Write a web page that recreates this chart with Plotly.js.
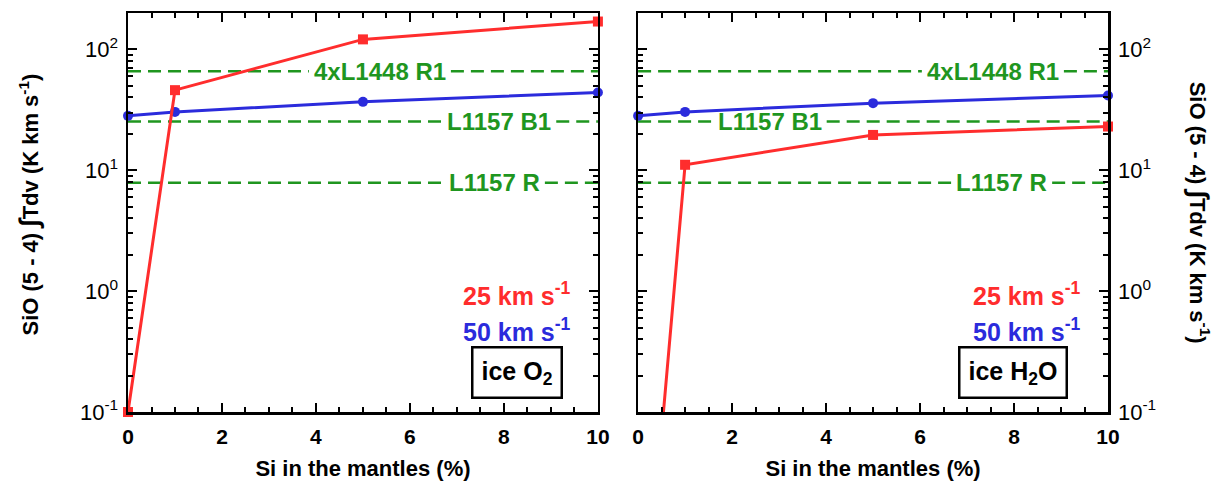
<!DOCTYPE html>
<html><head><meta charset="utf-8">
<script src="https://cdn.plot.ly/plotly-3.0.1.min.js"></script>
<style>body{margin:0;background:#fff}#c{width:1227px;height:482px}</style>
</head><body><div id="c"></div>
<script>
// Data
const siPct = [0, 1, 5, 10];
const o2_v25 = [0.1, 46, 121, 170];
const o2_v50 = [28.2, 30.4, 36.8, 44];
const h2o_v25 = [0.0004, 11.1, 19.6, 23.0];
const h2o_v50 = [28.2, 30.4, 35.9, 41.5];
const refNames = ['4xL1448 R1', 'L1157 B1', 'L1157 R'];
const refValues = [66, 25.3, 7.9];
const refLabelXLeft = [5.36, 7.9, 7.8];
const refLabelXRight = [7.55, 2.8, 7.74];
const yTickVals = [0.1, 1, 10, 100];
const yTickText = ['10<sup>-1</sup>', '10<sup>0</sup>', '10<sup>1</sup>', '10<sup>2</sup>'];
const xTickVals = [0, 2, 4, 6, 8, 10];
const xRange = [0, 10];

const RED = '#ff2d2d', BLUE = '#2b2bdc', GREEN = '#1f961f';
const FONT = 'Liberation Sans, Arial, sans-serif';
const LABEL_SIZE = 24;

const W = 1227, H = 482;
const margin = {l: 128, r: 118.7, t: 12.7, b: 70.3, autoexpand: false};
const domL = [0, 0.4795], domR = [0.5205, 1];
const plotW = W - margin.l - margin.r;
const pxPerUnit = plotW * (domL[1] - domL[0]) / (xRange[1] - xRange[0]);

// measure label widths to leave a gap in the dashed lines
const ctx = document.createElement('canvas').getContext('2d');
ctx.font = 'bold ' + LABEL_SIZE + 'px "Liberation Sans", Arial, sans-serif';
function halfGap(text) { return (ctx.measureText(text).width / 2 + 5) / pxPerUnit; }

const traces = [];
function addPanel(xa, ya, v25, v50, labelX) {
  refValues.forEach((v, i) => {
    const hw = halfGap(refNames[i]);
    traces.push({x: [xRange[0], labelX[i] - hw, null, labelX[i] + hw, xRange[1]], y: [v, v, null, v, v],
      xaxis: xa, yaxis: ya, mode: 'lines', connectgaps: false,
      line: {color: GREEN, width: 2.5, dash: '13px,7px'}, hoverinfo: 'skip'});
  });
  traces.push({x: siPct, y: v50, xaxis: xa, yaxis: ya, mode: 'lines+markers',
    line: {color: BLUE, width: 3}, marker: {symbol: 'circle', size: 10, color: BLUE}, cliponaxis: false});
  traces.push({x: siPct, y: v25, xaxis: xa, yaxis: ya, mode: 'lines+markers',
    line: {color: RED, width: 3}, marker: {symbol: 'square', size: 10, color: RED}, cliponaxis: false});
}
addPanel('x', 'y', o2_v25, o2_v50, refLabelXLeft);
addPanel('x2', 'y2', h2o_v25, h2o_v50, refLabelXRight);

const axBase = {showline: true, linecolor: 'black', linewidth: 2.5, mirror: 'ticks',
  ticks: 'inside', tickcolor: 'black', tickwidth: 2, showgrid: false, zeroline: false};
function xAx(domain, anchor) {
  return Object.assign({}, axBase, {domain: domain, anchor: anchor, range: xRange,
    tickvals: xTickVals, ticklen: 9, ticklabelstandoff: 4,
    tickfont: {family: FONT, size: 21, color: 'black', weight: 'bold'},
    minor: {dtick: 0.5, ticks: 'inside', ticklen: 5, tickcolor: 'black', tickwidth: 2},
    title: {text: 'Si in the mantles (%)', standoff: 14,
      font: {family: FONT, size: 22, color: 'black', weight: 'bold'}}});
}
function yAx(anchor, side) {
  return Object.assign({}, axBase, {type: 'log', anchor: anchor, side: side,
    range: [-1, Math.log10(200)], tickvals: yTickVals, ticktext: yTickText, ticklen: 9,
    ticklabelstandoff: 3,
    minor: {dtick: 'D1', ticks: 'inside', ticklen: 5, tickcolor: 'black', tickwidth: 2},
    tickfont: {family: FONT, size: 22, color: 'black'}});
}

const ann = [];
function lbl(xref, yref, x, y, text, color, size, extra) {
  ann.push(Object.assign({xref: xref, yref: yref, x: x, y: y, text: text, showarrow: false,
    font: {family: FONT, size: size, color: color, weight: 'bold'}}, extra || {}));
}
refNames.forEach((n, i) => {
  lbl('x', 'y', refLabelXLeft[i], Math.log10(refValues[i]), n, GREEN, LABEL_SIZE);
  lbl('x2', 'y2', refLabelXRight[i], Math.log10(refValues[i]), n, GREEN, LABEL_SIZE);
});
[['x', 'y', 'ice O<sub>2</sub>', 8.28], ['x2', 'y2', 'ice H<sub>2</sub>O', 7.97]].forEach(p => {
  lbl(p[0], p[1], 9.47, -0.02, '25 km s<sup>-1</sup>', RED, 25, {xanchor: 'right'});
  lbl(p[0], p[1], 9.47, -0.325, '50 km s<sup>-1</sup>', BLUE, 25, {xanchor: 'right'});
  lbl(p[0], p[1], p[3], -0.672, p[2], 'black', 25, {bordercolor: 'black', borderwidth: 2.5, borderpad: 8, bgcolor: 'white'});
});
const ytitle = 'SiO (5 - 4) <span style="font-size:27px">∫</span>Tdv (K km s<sup>-1</sup>)';
ann.push({xref: 'paper', yref: 'paper', x: -0.101, y: 0.52, xanchor: 'center', yanchor: 'middle',
  text: ytitle, textangle: -90, showarrow: false,
  font: {family: FONT, size: 22, color: 'black', weight: 'bold'}});
ann.push({xref: 'paper', yref: 'paper', x: 1.0937, y: 0.5, xanchor: 'center', yanchor: 'middle',
  text: ytitle, textangle: 90, showarrow: false,
  font: {family: FONT, size: 22, color: 'black', weight: 'bold'}});

const layout = {
  width: W, height: H, showlegend: false,
  paper_bgcolor: 'white', plot_bgcolor: 'white',
  margin: margin,
  xaxis: xAx(domL, 'y'),
  yaxis: yAx('x', 'left'),
  xaxis2: xAx(domR, 'y2'),
  yaxis2: yAx('x2', 'right'),
  annotations: ann
};
Plotly.newPlot('c', traces, layout, {staticPlot: true});
</script></body></html>
